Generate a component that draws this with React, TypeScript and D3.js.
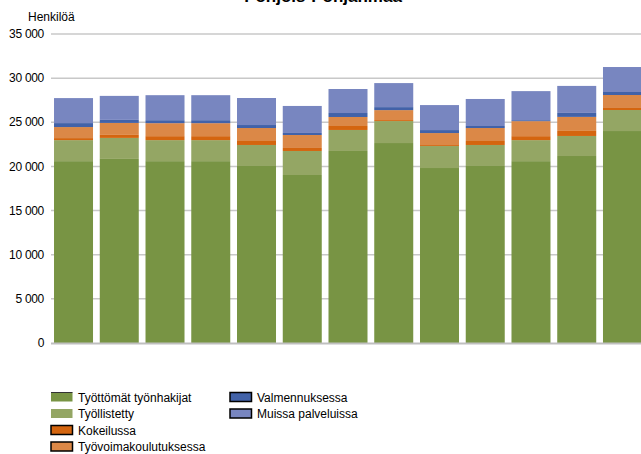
import React from "react";
import * as d3 from "d3";

const categories = ["1", "2", "3", "4", "5", "6", "7", "8", "9", "10", "11", "12", "13"];
const tyottomat = [20600, 20850, 20600, 20600, 20050, 19030, 21750, 22650, 19820, 20050, 20600, 21180, 24010];
const tyollistetty = [2380, 2380, 2380, 2380, 2380, 2720, 2380, 2490, 2490, 2380, 2380, 2270, 2380];
const kokeilussa = [230, 340, 450, 450, 450, 340, 450, 110, 110, 450, 450, 570, 230];
const tyovoimakoulutus = [1250, 1360, 1470, 1470, 1470, 1470, 1020, 1130, 1360, 1470, 1700, 1590, 1470];
const valmennus = [450, 340, 340, 340, 340, 230, 450, 340, 340, 230, 110, 450, 340];
const muissa = [2830, 2720, 2830, 2830, 3060, 3060, 2720, 2720, 2830, 3060, 3290, 3060, 2830];

const seriesNames = [
  "Työttömät työnhakijat",
  "Työllistetty",
  "Kokeilussa",
  "Työvoimakoulutuksessa",
  "Valmennuksessa",
  "Muissa palveluissa",
];
const seriesValues = [tyottomat, tyollistetty, kokeilussa, tyovoimakoulutus, valmennus, muissa];
const colors = ["#789444", "#94a664", "#d4650f", "#db8847", "#4262a8", "#7886c0"];
const yTicks = [0, 5000, 10000, 15000, 20000, 25000, 30000, 35000];

const W = 641;
const H = 454;

export default function App() {
  const x = d3
    .scaleBand<string>()
    .domain(categories)
    .range([51, 645])
    .paddingInner(0.1475)
    .paddingOuter(0.066);
  const y = d3.scaleLinear().domain([0, 35000]).range([343, 34]);

  const rows = categories.map((c, i) => {
    const o: any = { cat: c };
    seriesNames.forEach((s, k) => (o[s] = seriesValues[k][i]));
    return o;
  });
  const stacked = d3.stack<any>().keys(seriesNames)(rows);
  const fmt = (v: number) => (v >= 1000 ? d3.format(",")(v).replace(",", " ") : String(v));

  const legendItems = [
    { k: 0, x: 51, y: 401.5 },
    { k: 1, x: 51, y: 418 },
    { k: 2, x: 51, y: 434.5 },
    { k: 3, x: 51, y: 451 },
    { k: 4, x: 230, y: 401.5 },
    { k: 5, x: 230, y: 418 },
  ];

  return (
    <svg
      width={W}
      height={H}
      style={{ position: "absolute", left: 0, top: 0, background: "#fff" }}
      fontFamily="'Liberation Sans', Arial, sans-serif"
    >
      <rect width={W} height={H} fill="#fff" />
      <text x={323} y={2} textAnchor="middle" fontSize={17} fontWeight="bold" fill="#000">
        Pohjois-Pohjanmaa
      </text>
      <text x={28} y={21} fontSize={12} fill="#000">
        Henkilöä
      </text>
      {yTicks.map((t) => (
        <g key={t}>
          {t > 0 && (
            <line x1={51} x2={W} y1={y(t)} y2={y(t)} stroke="#c8c8c8" strokeWidth={1.5} />
          )}
          <text
            x={44}
            y={y(t)}
            dy="0.35em"
            textAnchor="end"
            fontSize={12}
            letterSpacing={-0.3}
            fill="#000"
          >
            {fmt(t)}
          </text>
        </g>
      ))}
      {stacked.map((s, k) => (
        <g key={s.key} fill={colors[k]}>
          {s.map((d, i) => (
            <rect
              key={i}
              x={x(categories[i])}
              width={x.bandwidth()}
              y={y(d[1])}
              height={y(d[0]) - y(d[1])}
            />
          ))}
        </g>
      ))}
      <line x1={51} x2={W} y1={343.5} y2={343.5} stroke="#bfbfbf" strokeWidth={2} />
      {legendItems.map(({ k, x: lx, y: ly }) => (
        <g key={k}>
          <rect
            x={lx}
            y={ly - 9}
            width={21.5}
            height={9}
            fill={colors[k]}
            stroke={k >= 2 ? "#000" : "none"}
            strokeWidth={1.5}
          />
          {k === 0 && <line x1={lx} x2={lx + 21.5} y1={ly - 9} y2={ly - 9} stroke="#333" strokeWidth={1} />}
          <text x={lx + 27} y={ly} fontSize={12} fill="#000">
            {seriesNames[k]}
          </text>
        </g>
      ))}
    </svg>
  );
}
